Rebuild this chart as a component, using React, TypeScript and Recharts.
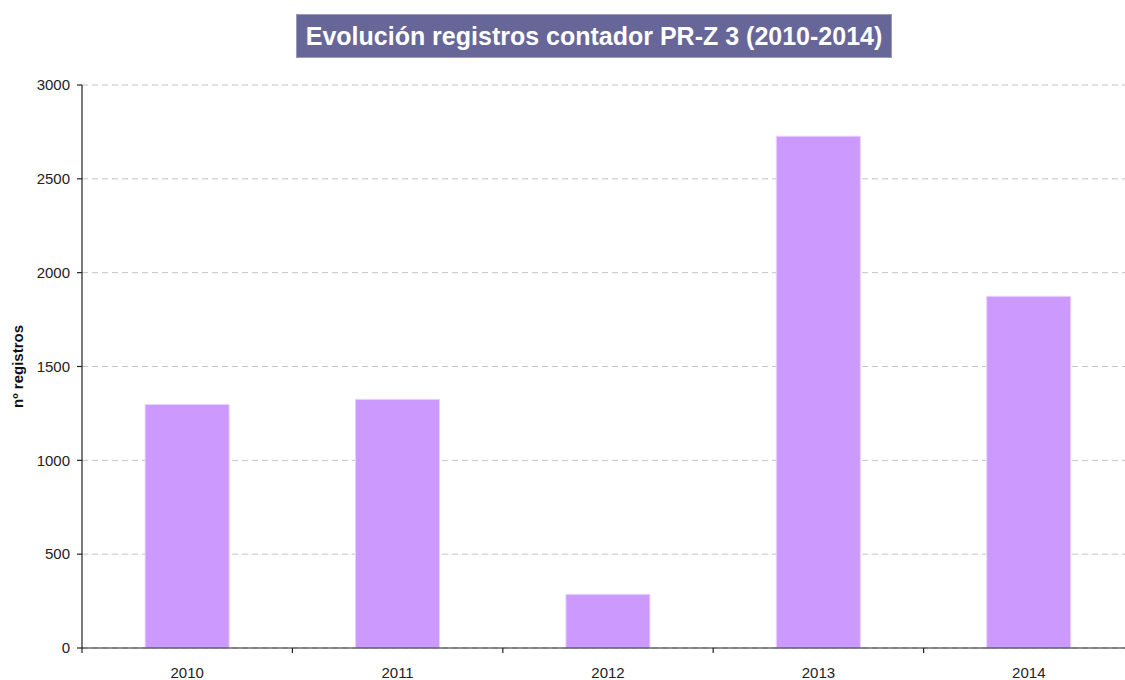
import React from "react";
import { BarChart, Bar, XAxis, YAxis, CartesianGrid } from "recharts";

const years = ["2010", "2011", "2012", "2013", "2014"];
const registros = [1298, 1325, 286, 2727, 1874];
const yTicks = [0, 500, 1000, 1500, 2000, 2500, 3000];
const title = "Evolución registros contador PR-Z 3 (2010-2014)";
const yLabel = "nº registros";

const data = years.map((y, i) => ({ year: y, value: registros[i] }));

const FONT = "'Liberation Sans', Arial, sans-serif";

const XTick = (props: any) => {
  const { x, y, payload, index } = props;
  const off = payload.offset || 0;
  return (
    <g>
      <line x1={x - off} y1={y - 8} x2={x - off} y2={y - 3} stroke="#222" strokeWidth={1.2} />
      {index === years.length - 1 && (
        <line x1={x + off} y1={y - 8} x2={x + off} y2={y - 3} stroke="#222" strokeWidth={1.2} />
      )}
      <text x={x} y={y + 22} textAnchor="middle" fontSize={15} fontFamily={FONT} fill="#222">
        {payload.value}
      </text>
    </g>
  );
};

const YLabel = (props: any) => {
  const { viewBox } = props;
  const cx = viewBox.x + 17;
  const cy = viewBox.y + viewBox.height / 2;
  return (
    <text
      x={cx}
      y={cy}
      transform={`rotate(-90 ${cx} ${cy})`}
      textAnchor="middle"
      dominantBaseline="central"
      fontSize={15}
      fontWeight="bold"
      fontFamily={FONT}
      fill="#111"
    >
      {yLabel}
    </text>
  );
};

export default function App() {
  return (
    <div
      style={{
        position: "absolute",
        left: 0,
        top: 0,
        width: 1125,
        height: 680,
        overflow: "hidden",
        background: "#fff",
      }}
    >
      <div
        style={{
          position: "absolute",
          left: 296,
          top: 14,
          width: 596,
          height: 44,
          background: "#666699",
          border: "1px solid #9999bb",
          boxSizing: "border-box",
          color: "#fff",
          fontFamily: FONT,
          fontWeight: "bold",
          fontSize: 25,
          lineHeight: "42px",
          textAlign: "center",
          whiteSpace: "nowrap",
        }}
      >
        {title}
      </div>
      <div style={{ position: "absolute", left: 0, top: 0 }}>
        <BarChart
          width={1140}
          height={680}
          data={data}
          margin={{ top: 85, right: 6, bottom: 0, left: 0 }}
          barCategoryGap="30%"
        >
          <CartesianGrid
            vertical={false}
            stroke="#c4c4c4"
            strokeDasharray="6 4"
          />
          <XAxis
            dataKey="year"
            tickLine={false}
            axisLine={{ stroke: "#222", strokeWidth: 1.2 }}
            tick={<XTick />}
            height={32}
            interval={0}
          />
          <YAxis
            width={82}
            domain={[0, 3000]}
            ticks={yTicks}
            interval={0}
            axisLine={{ stroke: "#222", strokeWidth: 1.2 }}
            tickLine={{ stroke: "#222", strokeWidth: 1.2 }}
            tickSize={5}
            tickMargin={7}
            tick={{ fontSize: 15, fontFamily: FONT, fill: "#222" }}
            label={<YLabel />}
          />
          <Bar
            dataKey="value"
            fill="#cc99ff"
            stroke="#e8d2ff"
            strokeWidth={1}
            isAnimationActive={false}
          />
        </BarChart>
      </div>
    </div>
  );
}
